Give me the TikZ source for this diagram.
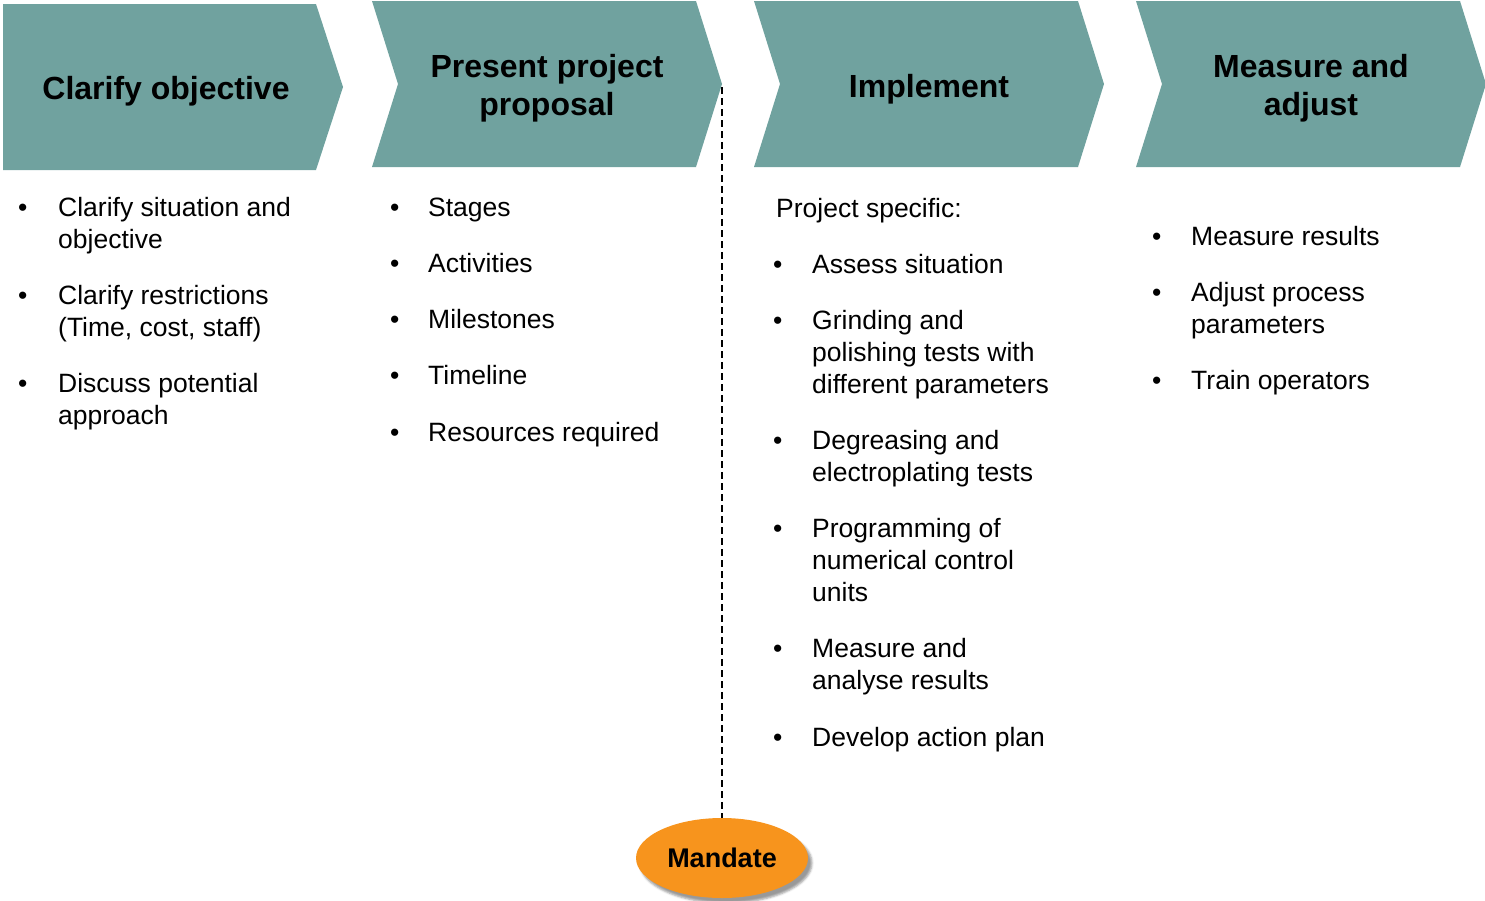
\documentclass[tikz,border=0pt]{standalone}
\usepackage{fontspec}
\setmainfont{Liberation Sans}
\usepackage{tikz}
\usetikzlibrary{shapes.geometric}
\usetikzlibrary{shadows.blur}

\definecolor{phasecol}{RGB}{112,162,159}
\definecolor{mandatecol}{RGB}{247,148,29}

% lines of one item, the first baseline on the node's base
\newcommand{\itemlines}[1]{\begin{tabular}[t]{@{}l@{}}#1\end{tabular}}

\tikzset{
  phase/.style = {fill = phasecol, draw = none},
  head/.style = {font = \bfseries\fontsize{32}{38}\selectfont, align = center, inner sep = 0pt},
  itemtext/.style = {font = \fontsize{26.5}{32}\selectfont, anchor = base west, inner sep = 0pt},
  bulletdot/.style = {font = \fontsize{26.5}{32}\selectfont, anchor = base west, inner sep = 0pt},
}

\begin{document}
\begin{tikzpicture}[x = 1pt, y = -1pt]
    \useasboundingbox (0,0) rectangle (1485,900);

    % phases
    \fill[phase] (3,4) -- (316,4) -- (343,87) -- (316,170) -- (3,170) -- cycle;
    \foreach \x in {372,754,1136}
    {
     \fill[phase] (\x,1) -- (\x+324,1) -- (\x+350,84) -- (\x+324,167) -- (\x,167) -- (\x+26,84) -- cycle;
    }

    \node[head] (h1) at (166,91) {Clarify objective};
    \node[head] (h2) at (547,88) {Present project\\proposal};
    \node[head] (h3) at (929,89) {Implement};
    \node[head] (h4) at (1311,88) {Measure and\\adjust};

    % bullet lists
    \foreach \t/\y [count=\k] in {{Clarify situation and\\objective}/216,
    {Clarify restrictions\\(Time, cost, staff)}/304,
    {Discuss potential\\approach}/392}
  {
   \node[bulletdot] (a\k dot) at (18,\y) {•};
   \node[itemtext] (a\k) at (58,\y) {\itemlines{\t}};
  }
    \foreach \t/\y [count=\k] in {Stages/216, Activities/272, Milestones/328,
    Timeline/384, Resources required/441}
  {
   \node[bulletdot] (b\k dot) at (390,\y) {•};
   \node[itemtext] (b\k) at (428,\y) {\t};
  }
    \node[itemtext] (c0) at (776,217) {Project specific:};
    \foreach \t/\y [count=\k] in {Assess situation/273,
    {Grinding and\\polishing tests with\\different parameters}/329,
    {Degreasing and\\electroplating tests}/449,
    {Programming of\\numerical control\\units}/537,
    {Measure and\\analyse results}/657,
    Develop action plan/746}
  {
   \node[bulletdot] (c\k dot) at (773,\y) {•};
   \node[itemtext] (c\k) at (812,\y) {\itemlines{\t}};
  }
    \foreach \t/\y [count=\k] in {Measure results/245,
    {Adjust process\\parameters}/301,
    Train operators/389}
  {
   \node[bulletdot] (d\k dot) at (1152,\y) {•};
   \node[itemtext] (d\k) at (1191,\y) {\itemlines{\t}};
  }

    % mandate
    \coordinate (gate) at (722,87);
    \node[ellipse, fill = mandatecol, minimum width = 172pt, minimum height = 80pt,
      blur shadow = {shadow xshift = 4pt, shadow yshift = -5pt, shadow opacity = 40},
      font = \bfseries\fontsize{27}{30}\selectfont] (mandate) at (722,858) {Mandate};
    \draw[line width = 2pt, dash pattern = on 7pt off 4pt] (gate) -- (mandate.north);
\end{tikzpicture}
\end{document}
